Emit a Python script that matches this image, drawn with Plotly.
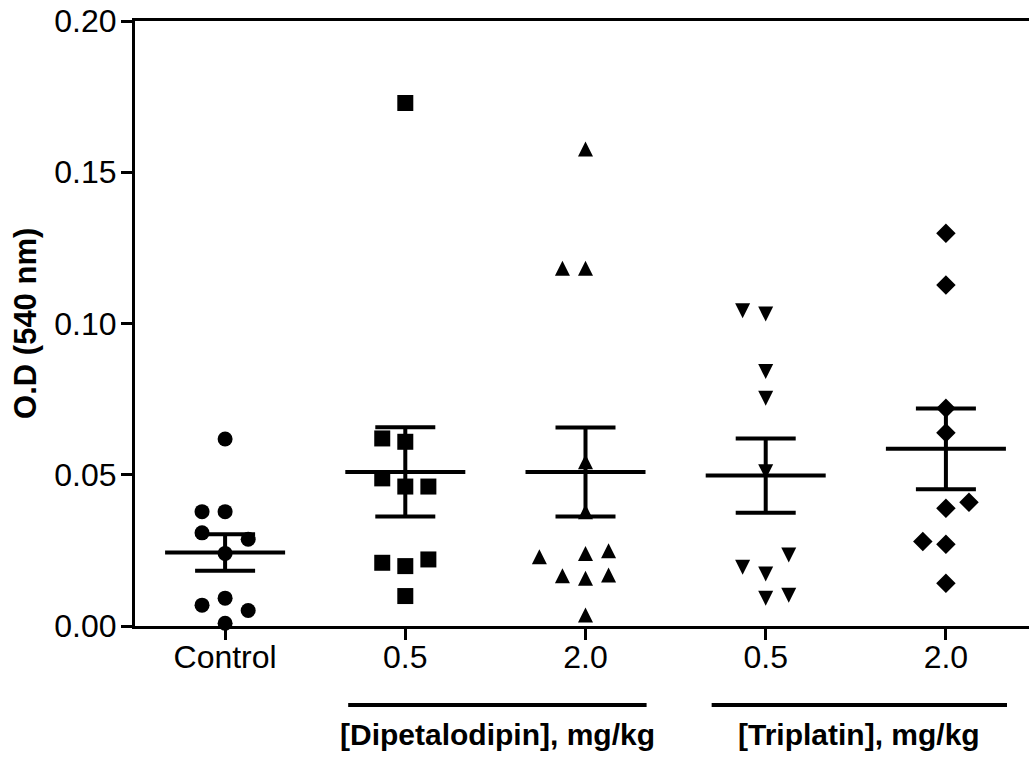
import numpy as np
import plotly.graph_objects as go

# ---- data ----
categories = ["Control", "0.5", "2.0", "0.5", "2.0"]
y_tick_vals = [0.00, 0.05, 0.10, 0.15, 0.20]
y_tick_text = ["0.00", "0.05", "0.10", "0.15", "0.20"]

control = [0.0618, 0.0378, 0.0378, 0.0308, 0.0287, 0.0240, 0.0092, 0.0069, 0.0051, 0.0009]
control_col = [0, -1, 0, -1, 1, 0, 0, -1, 1, 0]

dip_05 = [0.1729, 0.0620, 0.0609, 0.0488, 0.0461, 0.0461, 0.0209, 0.0198, 0.0220, 0.0099]
dip_05_col = [0, -1, 0, -1, 0, 1, -1, 0, 1, 0]

dip_20 = [0.1577, 0.1183, 0.1183, 0.0543, 0.0378, 0.0229, 0.0240, 0.0249, 0.0166, 0.0158, 0.0169, 0.0036]
dip_20_col = [0, -1, 0, 0, 0, -2, 0, 1, -1, 0, 1, 0]

trip_05 = [0.1042, 0.1031, 0.0841, 0.0753, 0.0510, 0.0235, 0.0194, 0.0172, 0.0092, 0.0102]
trip_05_col = [-1, 0, 0, 0, 0, 1, -1, 0, 0, 1]

trip_20 = [0.1298, 0.1127, 0.0720, 0.0639, 0.0389, 0.0409, 0.0279, 0.0270, 0.0141]
trip_20_col = [0, 0, 0, 0, 0, 1, -1, 0, 0]

group_labels = ["[Dipetalodipin], mg/kg", "[Triplatin], mg/kg"]

# ---- styling ----
FONT = "Liberation Sans, Arial, Helvetica, sans-serif"
JITTER = 0.128        # category units between side-by-side points
MEAN_HALF = 0.333     # half-length of mean line (category units)

groups = [control, dip_05, dip_20, trip_05, trip_20]
cols = [control_col, dip_05_col, dip_20_col, trip_05_col, trip_20_col]
marker_styles = [
    dict(symbol="circle", size=15),
    dict(symbol="square", size=16),
    dict(symbol="arrow-down", size=15, angle=180, standoff=7.5),
    dict(symbol="arrow-down", size=15, angle=0, standoff=7.5),
    dict(symbol="diamond", size=15),
]

fig = go.Figure()

means = [float(np.mean(g)) for g in groups]
sems = [float(np.std(g, ddof=1) / np.sqrt(len(g))) for g in groups]

# mean lines
for i, m in enumerate(means):
    fig.add_trace(go.Scatter(
        x=[i - MEAN_HALF, i + MEAN_HALF], y=[m, m], mode="lines",
        line=dict(color="black", width=4), showlegend=False, hoverinfo="skip"))

# SEM error bars
fig.add_trace(go.Scatter(
    x=list(range(len(groups))), y=means, mode="markers",
    marker=dict(size=1, color="rgba(0,0,0,0)"),
    error_y=dict(type="data", array=sems, visible=True, color="black",
                 thickness=4, width=30),
    showlegend=False, hoverinfo="skip"))

# data points
for i, (g, c, ms) in enumerate(zip(groups, cols, marker_styles)):
    fig.add_trace(go.Scatter(
        x=[i + JITTER * k for k in c], y=g, mode="markers",
        marker=dict(color="black", line=dict(width=0), **ms),
        cliponaxis=False, showlegend=False))

# group underlines and labels
underlines = [(0.683, 2.339), (2.700, 4.339)]
for (x0, x1), lab in zip(underlines, group_labels):
    fig.add_shape(type="line", xref="x", yref="paper", x0=x0, x1=x1,
                  y0=-0.1306, y1=-0.1306, line=dict(color="black", width=4))
    fig.add_annotation(xref="x", yref="paper", x=(x0 + x1) / 2, y=-0.179,
                       text="<b>" + lab + "</b>", showarrow=False,
                       xanchor="center", yanchor="middle",
                       font=dict(family=FONT, size=30, color="black"))

# y-axis title
fig.add_annotation(xref="paper", yref="paper", x=-0.1215, y=0.5,
                   text="<b>O.D (540 nm)</b>", textangle=-90, showarrow=False,
                   xanchor="center", yanchor="middle",
                   font=dict(family=FONT, size=31, color="black"))

fig.update_layout(
    width=1037, height=757,
    margin=dict(l=135, r=0, t=21, b=131),
    paper_bgcolor="white", plot_bgcolor="white",
    hovermode=False,
    font=dict(family=FONT, size=32, color="black"),
    xaxis=dict(range=[-0.5, 4.5055], tickvals=list(range(len(categories))),
               ticktext=categories, showline=True, linecolor="black",
               linewidth=3, mirror=True, ticks="outside", ticklen=11,
               tickwidth=3, tickcolor="black", showgrid=False, zeroline=False,
               ticklabelstandoff=-10, ticklabeloverflow="allow",
               automargin=False, showspikes=False,
               tickfont=dict(family=FONT, size=32, color="black")),
    yaxis=dict(range=[0, 0.2], tickvals=y_tick_vals, ticktext=y_tick_text,
               showline=True, linecolor="black", linewidth=3, mirror=False,
               ticks="outside", ticklen=11, tickwidth=3, tickcolor="black",
               showgrid=False, zeroline=False, ticklabelstandoff=-2,
               ticklabeloverflow="allow", automargin=False, showspikes=False,
               tickfont=dict(family=FONT, size=32, color="black")),
)

fig.write_html("out.html",
               config={"displayModeBar": False},
               post_script="document.body.style.margin='0px';"
                           "document.body.style.overflow='hidden';")
